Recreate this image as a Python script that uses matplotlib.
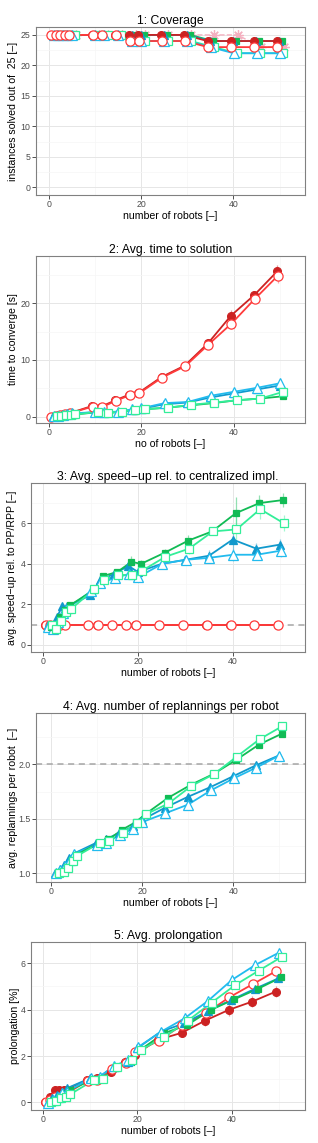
"""
Five stacked panels comparing the planners: coverage, time to solution,
speed-up, replannings per robot and prolongation vs. number of robots.
"""

import matplotlib
matplotlib.use("Agg")
import matplotlib.pyplot as plt
from matplotlib.ticker import FormatStrFormatter, MultipleLocator

plt.rcParams["font.family"] = ["Liberation Sans", "DejaVu Sans"]

# number of robots in the instances
X = [1, 2, 3, 4, 5, 10, 12, 15, 18, 20, 25, 30, 35, 40, 45, 50]

# 1: coverage (instances solved out of 25)
COV_RF = [25, 25, 25, 25, 25, 25, 25, 25, 25, 25, 25, 25, 24, 24, 24, 24]
COV_RO = [25, 25, 25, 25, 25, 25, 25, 25, 24, 24, 24, 24, 23, 23, 23, 23]
COV_BF = [25, 25, 25, 25, 25, 25, 25, 25, 25, 25, 25, 25, 24, 24, 24, 24]
COV_BO = [25, 25, 25, 25, 25, 25, 25, 25, 24, 24, 24, 24, 23, 22, 22, 22]
COV_GF = [25, 25, 25, 25, 25, 25, 25, 25, 25, 25, 25, 25, 24, 24, 24, 24]
COV_GO = [25, 25, 25, 25, 25, 25, 25, 25, 24, 24, 24, 24, 23, 22, 22, 22]
COV_PK = [25, 25, 25, 25, 25, 25, 25, 25, 25, 25, 25, 25, 25, 25, 23, 23]

# 2: avg. time to solution [s]
TIME_RF = [0.0, 0.2, 0.3, 0.4, 0.6, 1.9, 1.8, 2.9, 3.9, 4.2, 7.0, 9.0, 12.9, 17.8, 21.4, 25.6]
TIME_RO = [0.0, 0.2, 0.3, 0.4, 0.6, 1.8, 1.7, 2.8, 3.8, 4.1, 6.9, 8.9, 12.7, 16.4, 20.7, 24.8]
TIME_BF = [0.1, 0.2, 0.3, 0.4, 0.5, 0.8, 0.7, 0.9, 1.2, 1.4, 2.2, 2.5, 3.4, 4.1, 4.8, 5.5]
TIME_BO = [0.1, 0.2, 0.3, 0.4, 0.6, 0.8, 0.8, 0.9, 1.3, 1.5, 2.4, 2.6, 3.7, 4.4, 5.1, 5.9]
TIME_GF = [0.1, 0.2, 0.2, 0.3, 0.4, 0.8, 0.6, 0.9, 1.1, 1.3, 1.6, 2.0, 2.4, 2.9, 3.2, 3.6]
TIME_GO = [0.1, 0.2, 0.3, 0.3, 0.4, 0.9, 0.7, 0.9, 1.2, 1.35, 1.6, 2.1, 2.5, 2.9, 3.2, 4.4]
TIME_ERR_RF = [0, 0, 0, 0, 0, 0.1, 0.1, 0.2, 0.2, 0.2, 0.3, 0.4, 0.5, 1.0, 0.7, 1.2]
TIME_ERR_RO = [0, 0, 0, 0, 0, 0.1, 0.1, 0.2, 0.2, 0.2, 0.3, 0.4, 0.5, 0.9, 0.7, 1.3]

# 3: avg. speed-up relative to PP/RPP
SPD_RF = [1.0, 1.0, 1.0, 1.0, 1.0, 1.0, 1.0, 1.0, 1.0, 1.0, 1.0, 1.0, 1.0, 1.0, 1.0, 1.0]
SPD_RO = [1.0, 1.0, 1.0, 1.0, 1.0, 1.0, 1.0, 1.0, 1.0, 1.0, 1.0, 1.0, 1.0, 1.0, 1.0, 1.0]
SPD_BF = [1.0, 0.8, 1.4, 1.9, 1.9, 2.45, 3.2, 3.5, 3.9, 3.6, 4.0, 4.2, 4.4, 5.2, 4.75, 4.95]
SPD_BO = [0.9, 0.8, 1.15, 1.55, 1.8, 2.65, 3.05, 3.3, 3.5, 3.35, 4.0, 4.2, 4.3, 4.45, 4.45, 4.65]
SPD_GF = [0.9, 0.75, 1.4, 1.7, 1.95, 2.7, 3.4, 3.6, 4.1, 4.0, 4.55, 5.15, 5.6, 6.5, 7.0, 7.15]
SPD_GO = [1.0, 0.8, 1.2, 1.6, 1.75, 2.75, 3.2, 3.45, 3.45, 3.65, 4.35, 4.75, 5.6, 5.7, 6.7, 6.0]
SPD_ERR_BF = [0.05, 0.05, 0.1, 0.1, 0.1, 0.1, 0.15, 0.15, 0.2, 0.2, 0.2, 0.25, 0.3, 0.6, 0.3, 0.3]
SPD_ERR_BO = [0.05, 0.05, 0.1, 0.1, 0.1, 0.1, 0.15, 0.15, 0.2, 0.2, 0.2, 0.2, 0.25, 0.3, 0.25, 0.3]
SPD_ERR_GF = [0.05, 0.05, 0.1, 0.1, 0.1, 0.1, 0.15, 0.15, 0.3, 0.2, 0.2, 0.25, 0.15, 0.8, 0.4, 0.35]
SPD_ERR_GO = [0.05, 0.05, 0.1, 0.1, 0.1, 0.1, 0.15, 0.15, 0.2, 0.2, 0.2, 0.25, 0.2, 0.7, 0.5, 0.4]

# 4: avg. number of replannings per robot
REP_BF = [1.0, 1.04, 1.08, 1.14, 1.18, 1.28, 1.31, 1.37, 1.43, 1.49, 1.60, 1.70, 1.79, 1.89, 1.99, 2.08]
REP_BO = [1.0, 1.03, 1.07, 1.12, 1.18, 1.26, 1.28, 1.35, 1.41, 1.47, 1.55, 1.63, 1.76, 1.87, 1.97, 2.08]
REP_GF = [1.0, 1.02, 1.06, 1.12, 1.17, 1.28, 1.31, 1.40, 1.47, 1.54, 1.69, 1.81, 1.91, 2.04, 2.18, 2.28]
REP_GO = [1.0, 1.01, 1.05, 1.11, 1.16, 1.28, 1.30, 1.37, 1.46, 1.54, 1.64, 1.80, 1.91, 2.07, 2.23, 2.35]

# 5: avg. prolongation [%]
PRO_RF = [0.0, 0.25, 0.53, 0.53, 0.53, 0.96, 1.04, 1.32, 1.75, 2.05, 2.7, 3.0, 3.53, 3.99, 4.35, 4.78]
PRO_RO = [0.0, 0.1, 0.22, 0.25, 0.32, 0.94, 0.96, 1.42, 1.71, 2.19, 2.65, 3.34, 3.84, 4.53, 5.1, 5.67]
PRO_BF = [0.0, 0.17, 0.32, 0.46, 0.6, 1.04, 1.11, 1.54, 1.75, 2.33, 3.05, 3.41, 3.94, 4.42, 4.9, 5.35]
PRO_BO = [-0.04, 0.1, 0.24, 0.39, 0.46, 1.04, 1.11, 1.57, 1.83, 2.37, 3.05, 3.63, 4.39, 5.28, 5.93, 6.46]
PRO_GF = [0.0, 0.1, 0.24, 0.42, 0.53, 0.99, 1.04, 1.54, 1.76, 2.26, 2.98, 3.34, 3.99, 4.45, 4.9, 5.4]
PRO_GO = [0.0, 0.07, 0.17, 0.24, 0.35, 0.96, 1.01, 1.54, 1.83, 2.26, 2.83, 3.53, 4.30, 5.06, 5.68, 6.29]
PRO_ERR_RF = [0, 0.05, 0.1, 0.1, 0.1, 0.15, 0.15, 0.15, 0.2, 0.2, 0.2, 0.2, 0.25, 0.25, 0.25, 0.25]

# series styles (ggplot-like colours, shapes and dodge offsets)
STYLES = {
    "RF": dict(color="#cc2222", marker="o", filled=True, dx=-0.6, ms=5.6),
    "RO": dict(color="#ff3b3b", marker="o", filled=False, dx=-0.5, ms=6.6),
    "BF": dict(color="#1199cc", marker="^", filled=True, dx=-0.05, ms=6.0),
    "BO": dict(color="#22bbee", marker="^", filled=False, dx=0.05, ms=7.0),
    "GF": dict(color="#11bb55", marker="s", filled=True, dx=0.6, ms=5.0),
    "GO": dict(color="#33ee99", marker="s", filled=False, dx=0.75, ms=6.0),
    "PK": dict(color="#f4b0c0", marker=(8, 2, 0), filled=False, dx=0.9, ms=7.5),
}

GRID_MAJOR = "#e6e6e6"
GRID_MINOR = "#f6f6f6"
BORDER = "#808080"
TEXT = "#4d4d4d"

FIG_W, FIG_H = 318, 1143


def pixel_rect(left, top, right, bottom):
    return [left / FIG_W, 1 - bottom / FIG_H, (right - left) / FIG_W, (bottom - top) / FIG_H]


def draw_series(ax, key, y, err=None, z=3):
    st = STYLES[key]
    xs = [x + st["dx"] for x in X]
    if err is not None:
        ax.vlines(xs, [v - e for v, e in zip(y, err)], [v + e for v, e in zip(y, err)],
                  color=st["color"], alpha=0.45, lw=0.9, zorder=2)
    ls = "--" if key == "PK" else "-"
    ax.plot(xs, y, color=st["color"], lw=1.3 if key != "PK" else 1.0, ls=ls, zorder=z)
    ax.plot(xs, y, linestyle="None", marker=st["marker"], ms=st["ms"],
            markerfacecolor=st["color"] if st["filled"] else "white",
            markeredgecolor=st["color"], markeredgewidth=0.9, zorder=z + 0.5)


def style_axes(ax, title, xlabel, ylabel, xlim, ylim, ymajor, yminor, ylab_px, left_px, width_px, height_px):
    ax.set_xlim(*xlim)
    ax.set_ylim(*ylim)
    ax.xaxis.set_major_locator(MultipleLocator(20))
    ax.xaxis.set_minor_locator(MultipleLocator(10))
    ax.yaxis.set_major_locator(MultipleLocator(ymajor))
    ax.yaxis.set_minor_locator(MultipleLocator(yminor))
    ax.grid(True, which="major", color=GRID_MAJOR, lw=0.7, zorder=0)
    ax.grid(True, which="minor", color=GRID_MINOR, lw=0.5, zorder=0)
    ax.set_axisbelow(True)
    for sp in ax.spines.values():
        sp.set_color(BORDER)
        sp.set_linewidth(0.8)
    ax.tick_params(which="major", length=2.75, width=0.6, color="#333333",
                   labelsize=6.3, labelcolor=TEXT, pad=1.2)
    ax.tick_params(which="minor", length=0)
    ax.set_title(title, fontsize=8.8, pad=1.5, color="black")
    ax.set_xlabel(xlabel, fontsize=7.6)
    ax.set_ylabel(ylabel, fontsize=7.6)
    ax.xaxis.label.set_va("center")
    ax.yaxis.label.set_va("center")
    ax.xaxis.set_label_coords(0.5, -21 / height_px)
    ax.yaxis.set_label_coords((ylab_px - left_px) / width_px, 0.5)


def main():
    fig = plt.figure(figsize=(FIG_W / 100, FIG_H / 100), dpi=100)

    # 1: coverage -- red drawn last so the circles stay on top, as in the original
    ax = fig.add_axes(pixel_rect(36, 27, 305, 195))
    draw_series(ax, "PK", COV_PK, z=2.5)
    for key, y in [("GF", COV_GF), ("GO", COV_GO), ("BF", COV_BF),
                   ("BO", COV_BO), ("RF", COV_RF), ("RO", COV_RO)]:
        draw_series(ax, key, y)
    style_axes(ax, "1: Coverage", "number of robots [\u2013]",
               "instances solved out of  25 [\u2013]", (-2.75, 55.5), (-1.25, 26.3),
               5, 2.5, 13.3, 36, 269, 168)

    # 2: time to solution
    ax = fig.add_axes(pixel_rect(36, 256, 305, 423))
    draw_series(ax, "RF", TIME_RF, TIME_ERR_RF)
    draw_series(ax, "RO", TIME_RO, TIME_ERR_RO)
    for key, y in [("BF", TIME_BF), ("GF", TIME_GF), ("BO", TIME_BO), ("GO", TIME_GO)]:
        draw_series(ax, key, y)
    style_axes(ax, "2: Avg. time to solution", "no of robots [\u2013]",
               "time to converge [s]", (-2.75, 55.4), (-1.1, 28.3),
               10, 5, 13.3, 36, 269, 167)

    # 3: speed-up
    ax = fig.add_axes(pixel_rect(31, 483, 305, 652))
    ax.axhline(1.0, color="#a6a6a6", lw=1.1, ls=(0, (4, 3)), zorder=1)
    draw_series(ax, "RF", SPD_RF)
    draw_series(ax, "RO", SPD_RO)
    draw_series(ax, "BF", SPD_BF, SPD_ERR_BF)
    draw_series(ax, "BO", SPD_BO, SPD_ERR_BO)
    draw_series(ax, "GF", SPD_GF, SPD_ERR_GF)
    draw_series(ax, "GO", SPD_GO, SPD_ERR_GO)
    style_axes(ax, "3: Avg. speed\u2212up rel. to centralized impl.", "number of robots [\u2013]",
               "avg. speed\u2212up rel. to PP/RPP [\u2013]", (-2.6, 55.2), (-0.35, 7.99),
               2, 1, 12, 31, 274, 169)

    # 4: replannings per robot
    ax = fig.add_axes(pixel_rect(36, 713, 305, 882))
    ax.axhline(2.0, color="#a6a6a6", lw=1.1, ls=(0, (4, 3)), zorder=1)
    for key, y in [("BF", REP_BF), ("BO", REP_BO), ("GF", REP_GF), ("GO", REP_GO)]:
        draw_series(ax, key, y)
    style_axes(ax, "4: Avg. number of replannings per robot", "number of robots [\u2013]",
               "avg. replannings per robot  [\u2013]", (-3.3, 55.7), (0.92, 2.47),
               0.5, 0.25, 13.3, 36, 269, 169)
    ax.yaxis.set_major_formatter(FormatStrFormatter("%.1f"))

    # 5: prolongation
    ax = fig.add_axes(pixel_rect(31, 942, 305, 1110))
    draw_series(ax, "RF", PRO_RF, PRO_ERR_RF)
    for key, y in [("RO", PRO_RO), ("BF", PRO_BF), ("GF", PRO_GF), ("BO", PRO_BO), ("GO", PRO_GO)]:
        draw_series(ax, key, y)
    style_axes(ax, "5: Avg. prolongation", "number of robots [\u2013]",
               "prolongation [%]", (-2.6, 55.6), (-0.33, 6.92),
               2, 1, 15, 31, 274, 168)

    fig.savefig("out.png", dpi=100)
    plt.close(fig)


if __name__ == "__main__":
    main()
